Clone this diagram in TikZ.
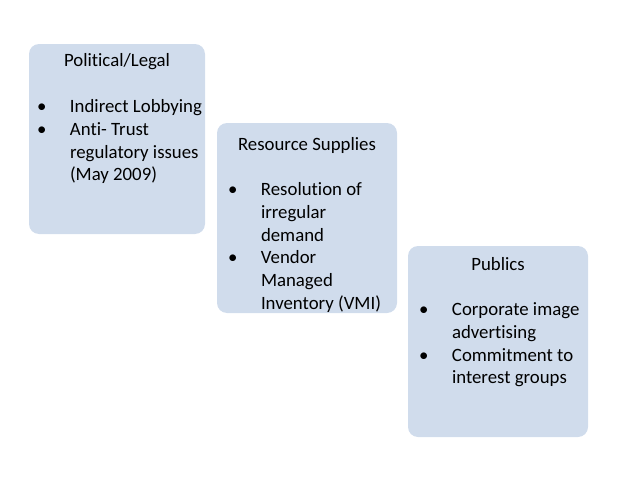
\documentclass[tikz,border=0pt]{standalone}
\usepackage{fontspec}
\setmainfont[Ligatures=NoCommon]{Carlito}
\usepackage{xcolor}
\definecolor{panelblue}{RGB}{208,220,236}
\tikzset{
	panel/.style={draw=none,fill=panelblue,rounded corners=10pt,inner sep=0pt},
	heading/.style={anchor=base,inner sep=0pt,font=\fontsize{18.8}{22.7}\selectfont},
	items/.style={anchor=base west,inner sep=0pt,font=\fontsize{18.8}{22.7}\selectfont}
}
\newcommand{\itemlist}[1]{\begin{tabular}[t]{@{}p{33pt}@{}l@{}}#1\end{tabular}}

\begin{document}
\begin{tikzpicture}[x=1pt,y={(0pt,-1pt)}]
	\useasboundingbox (0,0) rectangle (638,479);
	\node [panel,minimum width=176pt,minimum height=190pt] (polit) at (117,139) {};
	\node [panel,minimum width=180pt,minimum height=190pt] (supply) at (307,218) {};
	\node [panel,minimum width=180pt,minimum height=191pt] (publics) at (498,341.5) {};
	\node [heading] (politTitle) at ([yshift=-23pt]polit.north) {Political/Legal};
	\node [heading] (supplyTitle) at ([yshift=-28pt]supply.north) {Resource Supplies};
	\node [heading] (publicsTitle) at ([yshift=-25pt]publics.north) {Publics};
	\node [items] (politList) at ([xshift=8pt,yshift=-69pt]polit.north west)
		{\itemlist{• & Indirect Lobbying\\ • & Anti- Trust\\ & regulatory issues\\ & (May 2009)}};
	\node [items] (supplyList) at ([xshift=11pt,yshift=-73pt]supply.north west)
		{\itemlist{• & Resolution of\\ & irregular\\ & demand\\ • & Vendor\\ & Managed\\ & Inventory (VMI)}};
	\node [items] (publicsList) at ([xshift=11pt,yshift=-70pt]publics.north west)
		{\itemlist{• & Corporate image\\ & advertising\\ • & Commitment to\\ & interest groups}};
\end{tikzpicture}
\end{document}
